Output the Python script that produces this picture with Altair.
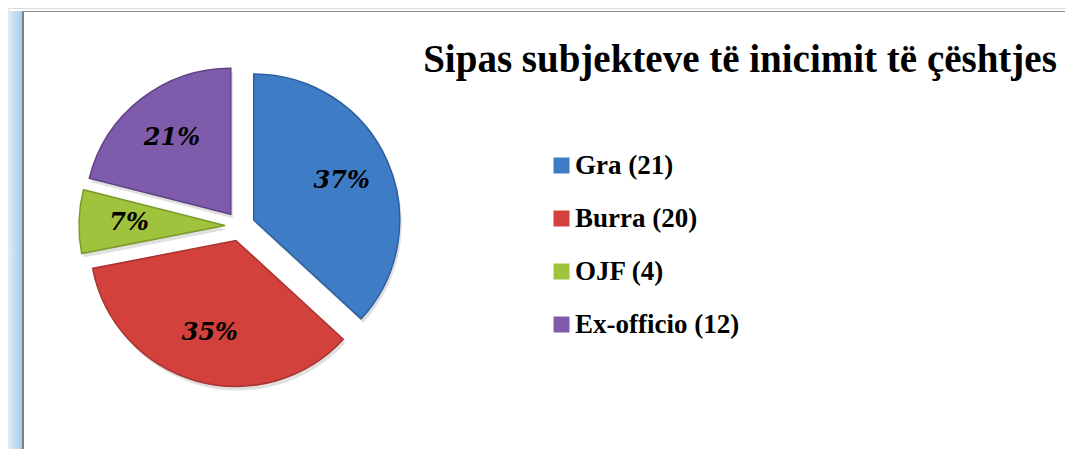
import math
import altair as alt
import pandas as pd

# ---- data ----
categories = ["Gra", "Burra", "OJF", "Ex-officio"]
counts = [21, 20, 4, 12]
title_text = "Sipas subjekteve të inicimit të çështjes"

# ---- style / layout ----
colors = ["#3f7cc6", "#d2413c", "#9fc33c", "#7e5bab"]
edge_colors = ["#2d5f9e", "#a83330", "#7c9a2a", "#5f4285"]
W, H = 1057, 441
CX, CY = 232, 218        # pie centre (px)
R = 146                  # pie radius (px)
EXPLODE = 15             # explode distance (px)
LABEL_R = 96

labels = [f"{c} ({n})" for c, n in zip(categories, counts)]
df = pd.DataFrame({
    "cat": categories,
    "count": counts,
    "label": labels,
    "order": list(range(len(categories))),
})

base = alt.Chart(df).transform_joinaggregate(
    total="sum(count)"
).transform_window(
    cum="sum(count)", sort=[alt.SortField("order")], frame=[None, 0]
).transform_calculate(
    a0="(datum.cum - datum.count) / datum.total * 2 * PI",
    a1="datum.cum / datum.total * 2 * PI",
).transform_calculate(
    amid="(datum.a0 + datum.a1) / 2",
    pct="format(round(datum.count / datum.total * 100), 'd') + '%'",
).transform_calculate(
    cx=f"{CX} + {EXPLODE} * sin(datum.amid)",
    cy=f"{CY} - {EXPLODE} * cos(datum.amid)",
)

color_enc = alt.Color(
    "label:N",
    scale=alt.Scale(domain=labels, range=colors),
    sort=labels,
    legend=alt.Legend(
        title=None,
        orient="none",
        legendX=540,
        legendY=144,
        padding=0,
        symbolType="square",
        symbolSize=256,
        symbolStrokeWidth=0,
        symbolOpacity=1,
        labelFont="Liberation Serif",
        labelFontWeight="bold",
        labelFontSize=27,
        labelColor="#000000",
        labelOffset=0,
        rowPadding=25,
        labelLimit=400,
    ),
)

shadow = base.mark_arc(outerRadius=R, color="#000000", opacity=0.12).encode(
    theta=alt.Theta("a0:Q", scale=None),
    theta2="a1:Q",
    x=alt.X("sx:Q", scale=None),
    y=alt.Y("sy:Q", scale=None),
).transform_calculate(sx="datum.cx + 2", sy="datum.cy + 4")

arcs = base.mark_arc(outerRadius=R, strokeWidth=1.5).encode(
    theta=alt.Theta("a0:Q", scale=None),
    theta2="a1:Q",
    x=alt.X("cx:Q", scale=None),
    y=alt.Y("cy:Q", scale=None),
    color=color_enc,
    stroke=alt.Stroke("label:N", scale=alt.Scale(domain=labels, range=edge_colors), legend=None),
)

texts = base.mark_text(
    radius=LABEL_R,
    font="DejaVu Serif",
    fontWeight="bold",
    fontStyle="italic",
    fontSize=24,
    color="#000000",
    baseline="middle",
    align="center",
).encode(
    theta=alt.Theta("amid:Q", scale=None),
    x=alt.X("cx:Q", scale=None),
    y=alt.Y("cy:Q", scale=None),
    text="pct:N",
)

frame_df = pd.DataFrame({"k": [0]})
side_bar = alt.Chart(frame_df).mark_rect(
    color=alt.Gradient(
        gradient="linear",
        stops=[alt.GradientStop(color="#e2eef8", offset=0),
               alt.GradientStop(color="#a6cbe9", offset=1)],
        x1=0, x2=1, y1=0, y2=0,
    )
).encode(x=alt.value(0), x2=alt.value(14), y=alt.value(3), y2=alt.value(H))

vline = alt.Chart(frame_df).mark_rule(color="#808080", strokeWidth=2).encode(
    x=alt.value(15), y=alt.value(3), y2=alt.value(H)
)
hline = alt.Chart(frame_df).mark_rule(color="#909090", strokeWidth=1).encode(
    x=alt.value(14), x2=alt.value(W), y=alt.value(3.5)
)

title = alt.Chart(frame_df).mark_text(
    text=title_text,
    font="Liberation Serif",
    fontWeight="bold",
    fontSize=39,
    color="#000000",
    align="center",
    baseline="alphabetic",
).encode(x=alt.value(732), y=alt.value(64))

chart = alt.layer(side_bar, vline, hline, shadow, arcs, texts, title).properties(
    width=W, height=H, padding=0,
    autosize=alt.AutoSizeParams(type="none"),
).configure_view(stroke=None).configure(background="white")

chart.save("out.html", embed_options={"renderer": "svg", "actions": False})
